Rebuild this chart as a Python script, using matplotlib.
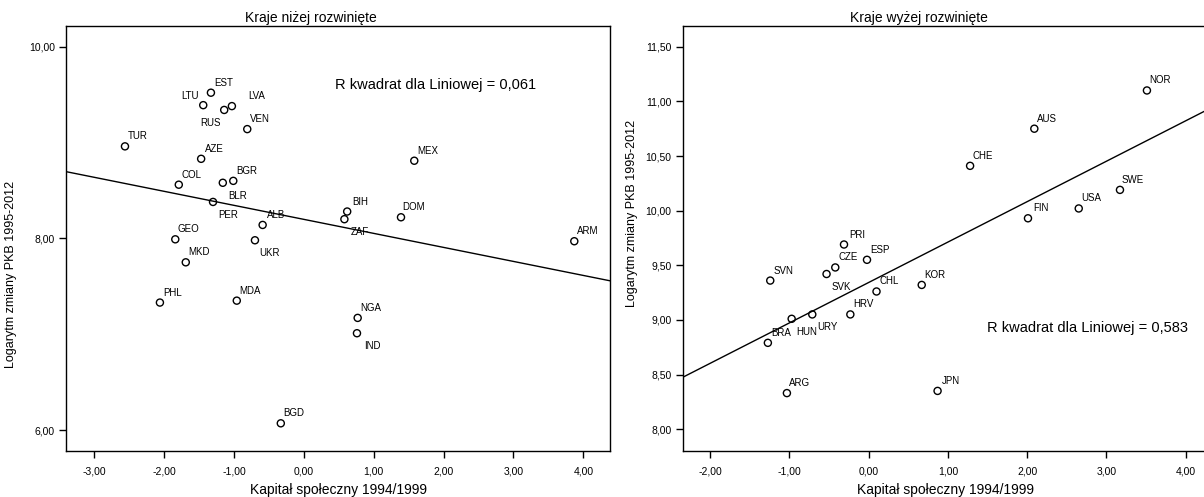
import numpy as np
import matplotlib
matplotlib.use('Agg')
import matplotlib.pyplot as plt

plt.rcParams['font.family'] = ['Liberation Sans', 'DejaVu Sans']

# Kraje niżej rozwinięte
low_kraje = ['EST', 'LTU', 'RUS', 'LVA', 'VEN', 'TUR', 'AZE', 'COL', 'BGR', 'BLR',
             'PER', 'ALB', 'GEO', 'UKR', 'MKD', 'PHL', 'MDA', 'BGD', 'MEX', 'BIH',
             'ZAF', 'DOM', 'ARM', 'NGA', 'IND']
low_x = [-1.33, -1.44, -1.14, -1.03, -0.81, -2.56, -1.47, -1.79, -1.01, -1.16,
         -1.30, -0.59, -1.84, -0.70, -1.69, -2.06, -0.96, -0.33, 1.58, 0.62,
         0.58, 1.39, 3.87, 0.77, 0.76]
low_y = [9.52, 9.39, 9.34, 9.38, 9.14, 8.96, 8.83, 8.56, 8.60, 8.58,
         8.38, 8.14, 7.99, 7.98, 7.75, 7.33, 7.35, 6.07, 8.81, 8.28,
         8.20, 8.22, 7.97, 7.17, 7.01]
low_r2 = '0,061'

# Kraje wyżej rozwinięte
high_kraje = ['NOR', 'AUS', 'CHE', 'SWE', 'USA', 'FIN', 'PRI', 'ESP', 'CZE', 'SVK',
              'SVN', 'CHL', 'HRV', 'URY', 'HUN', 'BRA', 'ARG', 'KOR', 'JPN']
high_x = [3.51, 2.09, 1.28, 3.17, 2.65, 2.01, -0.31, -0.02, -0.42, -0.53,
          -1.24, 0.10, -0.23, -0.71, -0.97, -1.27, -1.03, 0.67, 0.87]
high_y = [11.10, 10.75, 10.41, 10.19, 10.02, 9.93, 9.69, 9.55, 9.48, 9.42,
          9.36, 9.26, 9.05, 9.05, 9.01, 8.79, 8.33, 9.32, 8.35]
high_r2 = '0,583'

# polozenie etykiet (px): domyslnie prawo-gora
offs = {'ur': (13, 10), 'lr': (15, -13), 'ul': (-13, 9), 'll': (-14, -13), 'ur2': (25, 10)}
low_pos = {'LTU': 'ul', 'RUS': 'll', 'LVA': 'ur2', 'BLR': 'lr', 'PER': 'lr',
           'UKR': 'lr', 'ZAF': 'lr', 'IND': 'lr'}
high_pos = {'SVK': 'lr', 'URY': 'lr', 'HUN': 'lr'}


def fmt(v):
    return f'{v:.2f}'.replace('.', ',')


def wykres(ax, kraje, xs, ys, pos, r2, r2_xy, tytul, xlim, ylim, xt, yt, ylab_y):
    xs = np.array(xs)
    ys = np.array(ys)
    ax.scatter(xs, ys, s=26, facecolors='none', edgecolors='black', linewidths=1, zorder=3)
    a, b = np.polyfit(xs, ys, 1)
    lx = np.array(xlim)
    ax.plot(lx, a * lx + b, color='black', lw=1)
    for k, x, y in zip(kraje, xs, ys):
        dx, dy = offs[pos.get(k, 'ur')]
        ax.annotate(k, (x, y), xytext=(dx * 0.72, dy * 0.72), textcoords='offset points',
                    ha='center', va='center', fontsize=7)
    ax.text(r2_xy[0], r2_xy[1], 'R kwadrat dla Liniowej = ' + r2, transform=ax.transAxes,
            ha='center', va='center', fontsize=10.5)
    ax.set_xlim(xlim)
    ax.set_ylim(ylim)
    ax.set_xticks(xt)
    ax.set_xticklabels([fmt(v) for v in xt])
    ax.set_yticks(yt)
    ax.set_yticklabels([fmt(v) for v in yt])
    ax.tick_params(labelsize=7.5, length=5, width=1, pad=3)
    ax.tick_params(axis='x', pad=6)
    for s in ax.spines.values():
        s.set_linewidth(1)
    ax.set_title(tytul, fontsize=10, x=0.45, pad=3)
    ax.set_xlabel('Kapitał społeczny 1994/1999', fontsize=10)
    ax.xaxis.set_label_coords(0.5, -0.076)
    ax.set_ylabel('Logarytm zmiany PKB 1995-2012', fontsize=9)
    ax.yaxis.set_label_coords(-0.09, ylab_y)


fig = plt.figure(figsize=(12.04, 4.97), dpi=100)
ax1 = fig.add_axes([66 / 1204, 46 / 497, 544 / 1204, 425 / 497])
ax2 = fig.add_axes([682.7 / 1204, 46 / 497, 525.3 / 1204, 425 / 497])

wykres(ax1, low_kraje, low_x, low_y, low_pos, low_r2, (0.68, 0.86),
       'Kraje niżej rozwinięte', (-3.404, 4.381), (5.781, 10.216),
       [-3, -2, -1, 0, 1, 2, 3, 4], [6, 8, 10], 0.416)
wykres(ax2, high_kraje, high_x, high_y, high_pos, high_r2, (0.77, 0.29),
       'Kraje wyżej rozwinięte', (-2.344, 4.28), (7.80, 11.69),
       [-2, -1, 0, 1, 2, 3, 4], [8, 8.5, 9, 9.5, 10, 10.5, 11, 11.5], 0.56)
ax2.yaxis.set_label_coords(-0.086, 0.56)

fig.savefig('out.png', dpi=100)
